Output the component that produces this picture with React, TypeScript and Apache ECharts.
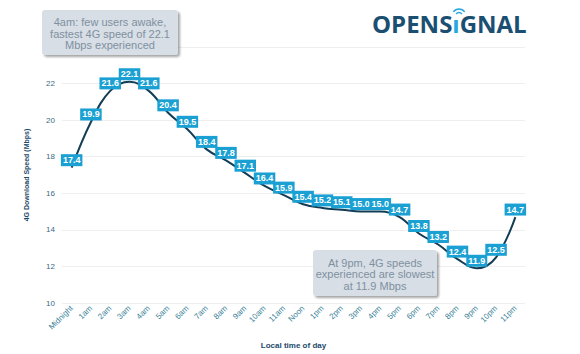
import React, { useEffect, useRef } from "react";
import * as echarts from "echarts";

const categories = ["Midnight","1am","2am","3am","4am","5am","6am","7am","8am","9am","10am","11am","Noon","1pm","2pm","3pm","4pm","5pm","6pm","7pm","8pm","9pm","10pm","11pm"];
const speeds = [17.4,19.9,21.6,22.1,21.6,20.4,19.5,18.4,17.8,17.1,16.4,15.9,15.4,15.2,15.1,15.0,15.0,14.7,13.8,13.2,12.4,11.9,12.5,14.7];
const yMin = 10;
const yMax = 24;
const yInterval = 2;
const note1 = ["4am: few users awake,", "fastest 4G speed of 22.1", "Mbps experienced"];
const note2 = ["At 9pm, 4G speeds", "experienced are slowest", "at 11.9 Mbps"];

export default function App() {
  const ref = useRef<HTMLDivElement>(null);
  useEffect(() => {
    if (!ref.current) return;
    const chart = echarts.init(ref.current, undefined, { renderer: "svg" });
    const navy = "#1c4a6b";
    const noteBox = (x: number, y: number, w: number, h: number, lines: string[]) => [
      {
        type: "rect",
        z: 100,
        zlevel: 1,
        shape: { x, y, width: w, height: h, r: 3 },
        style: { fill: "#d7dee5", shadowColor: "rgba(0,0,0,0.35)", shadowOffsetX: 2, shadowOffsetY: 2, shadowBlur: 2 },
      },
      {
        type: "text",
        z: 101,
        zlevel: 1,
        x: x + w / 2,
        y: y + h / 2 + 1,
        style: {
          text: lines.join("\n"),
          fill: "#7f90a1",
          font: "11px 'Liberation Sans', Arial, sans-serif",
          lineHeight: 11.5,
          align: "center",
          verticalAlign: "middle",
        },
      },
    ];
    chart.setOption({
      animation: false,
      backgroundColor: "#ffffff",
      grid: { left: 62, right: 55, top: 47, bottom: 51 },
      xAxis: {
        type: "category",
        data: categories,
        boundaryGap: true,
        axisLine: { show: false },
        axisTick: { show: false },
        axisLabel: {
          rotate: 45,
          interval: 0,
          fontSize: 8,
          color: "#3a7f98",
          margin: 4,
          fontFamily: "'Liberation Sans', Arial, sans-serif",
        },
        name: "Local time of day",
        nameLocation: "middle",
        nameGap: 38,
        nameTextStyle: { fontSize: 8, fontWeight: "bold", color: navy, fontFamily: "'Liberation Sans', Arial, sans-serif" },
      },
      yAxis: {
        type: "value",
        min: yMin,
        max: yMax,
        interval: yInterval,
        axisLine: { show: false },
        axisTick: { show: false },
        splitLine: { lineStyle: { color: "#eeeeee", width: 1 } },
        axisLabel: { fontSize: 8, color: "#3a6a80", margin: 7, fontFamily: "'Liberation Sans', Arial, sans-serif" },
        name: "4G Download Speed (Mbps)",
        nameLocation: "middle",
        nameGap: 32,
        nameRotate: 90,
        nameTextStyle: { fontSize: 7, fontWeight: "bold", color: navy, fontFamily: "'Liberation Sans', Arial, sans-serif" },
      },
      series: [
        {
          type: "line",
          data: speeds,
          smooth: 0.4,
          showSymbol: true,
          symbol: "circle",
          symbolSize: 1,
          itemStyle: { color: "rgba(0,0,0,0)" },
          lineStyle: { color: "#123d55", width: 2 },
          label: {
            show: true,
            position: "top",
            distance: 1,
            formatter: (p: any) => Number(p.value).toFixed(1),
            backgroundColor: "#1aa0d2",
            color: "#ffffff",
            fontWeight: "bold",
            fontSize: 9,
            lineHeight: 10,
            padding: [1, 2, 1, 2],
            fontFamily: "'Liberation Sans', Arial, sans-serif",
          },
          labelLayout: { hideOverlap: false },
        },
      ],
      graphic: [
        ...noteBox(42, 10, 136, 45, note1),
        ...noteBox(313, 250, 124, 46, note2),
        {
          type: "text",
          x: 372,
          y: 11,
          z: 100,
          style: {
            text: "{a|OPENS}{b|ı}{a|GNAL}",
            font: "bold 24px 'Open Sans', sans-serif",
            rich: {
              a: { fill: "#1b4f72", font: "bold 24px 'Open Sans', sans-serif" },
              b: { fill: "#29a8e0", font: "bold 24px 'Open Sans', sans-serif" },
            },
          },
        },
        {
          type: "arc",
          z: 100,
          shape: { cx: 459, cy: 16, r: 3.5, startAngle: -Math.PI * 0.8, endAngle: -Math.PI * 0.2, clockwise: true },
          style: { stroke: "#29a8e0", lineWidth: 1.5, fill: "none" },
        },
        {
          type: "arc",
          z: 100,
          shape: { cx: 459, cy: 16, r: 7, startAngle: -Math.PI * 0.8, endAngle: -Math.PI * 0.2, clockwise: true },
          style: { stroke: "#29a8e0", lineWidth: 1.5, fill: "none" },
        },
      ],
    });
    return () => chart.dispose();
  }, []);
  return <div ref={ref} style={{ width: 580, height: 354, position: "absolute", left: 0, top: 0 }} />;
}
